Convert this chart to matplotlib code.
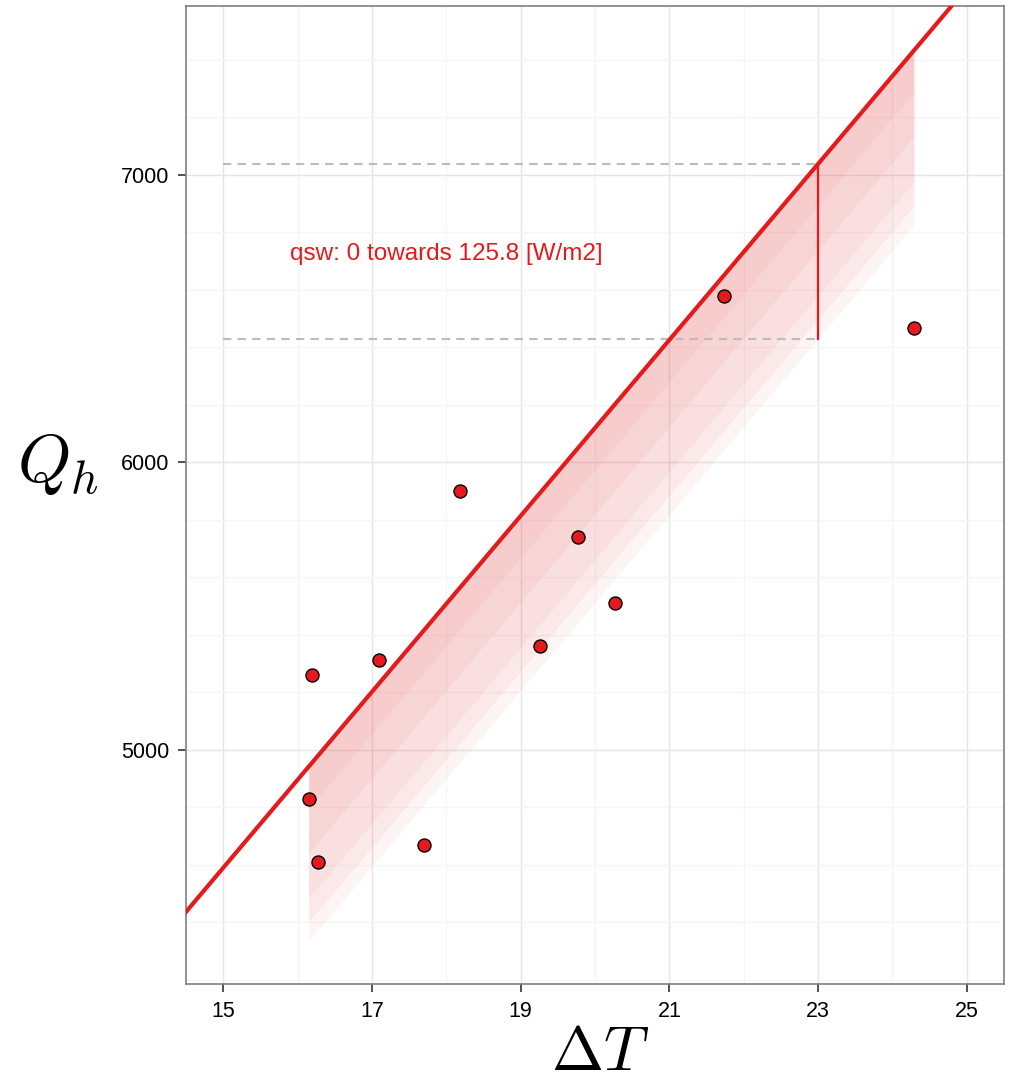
import numpy as np
import matplotlib.pyplot as plt

# scatter data
dT = [16.15, 16.20, 16.28, 17.10, 17.70, 18.19, 19.26, 19.77, 20.27, 21.74, 24.29]
Qh = [4830, 5261, 4610, 5313, 4670, 5899, 5362, 5739, 5510, 6579, 6468]

# fitted line Qh = intercept + slope * dT
intercept = 0.0
slope = 306.0

# shift of the line for qsw 0 -> 125.8 W/m2, shown as fading bands
band_offsets = [145, 300, 457, 540, 607]
x_ref = 23.0
dashed_start = 15.0

red = '#E41A1C'
plt.rcParams['font.family'] = ['Liberation Sans', 'DejaVu Sans']
plt.rcParams['mathtext.fontset'] = 'cm'

fig = plt.figure(figsize=(10.11, 10.88), dpi=100)
ax = fig.add_axes([0.184, 0.0956, 0.809, 0.899])

# grid
ax.set_xticks(np.arange(15, 26, 2))
ax.set_xticks(np.arange(16, 25, 2), minor=True)
ax.set_yticks([5000, 6000, 7000])
ax.set_yticks([y for y in range(4200, 7700, 200) if y % 1000 != 0], minor=True)
ax.grid(which='major', color='#E5E5E5', lw=1.0, zorder=0)
ax.grid(which='minor', color='#F5F5F5', lw=1.0, zorder=0)
ax.tick_params(which='minor', length=0)
ax.tick_params(which='major', length=6, width=1.2, color='#333333',
               labelsize=15.5, labelcolor='black', pad=6)
ax.set_axisbelow(True)
for s in ax.spines.values():
    s.set_color('#7F7F7F')
    s.set_linewidth(1.2)

# bands
xb = np.array([min(dT), max(dT)])
top = intercept + slope * xb
for off in band_offsets:
    ax.fill_between(xb, top - off, top, color=red, alpha=0.048, lw=0, zorder=1)

# main line
xl = np.array([14.0, 26.0])
ax.plot(xl, intercept + slope * xl, color=red, lw=3, zorder=3)

# dashed guides and vertical shift marker
y_hi = intercept + slope * x_ref
y_lo = y_hi - max(band_offsets)
ax.plot([dashed_start, x_ref], [y_hi, y_hi], color='#BBBBBB', lw=1.5, ls=(0, (4, 3)), zorder=2)
ax.plot([dashed_start, x_ref], [y_lo, y_lo], color='#BBBBBB', lw=1.5, ls=(0, (4, 3)), zorder=2)
ax.plot([x_ref, x_ref], [y_lo, y_hi], color=red, lw=1.6, zorder=3)

ax.text(18.0, 6725, 'qsw: 0 towards 125.8 [W/m2]', color=red, fontsize=17.5,
        ha='center', va='center', zorder=4)

# points
ax.scatter(dT, Qh, s=88, color=red, edgecolors='black', linewidths=1.0, zorder=5)

ax.set_xlim(14.5, 25.5)
ax.set_ylim(4186, 7588)

fig.text(0.594, 0.005, r'$\Delta T$', fontsize=45, ha='center', va='bottom')
fig.text(0.057, 0.573, r'$Q_h$', fontsize=49, ha='center', va='center')

fig.savefig('out.png', dpi=100)
